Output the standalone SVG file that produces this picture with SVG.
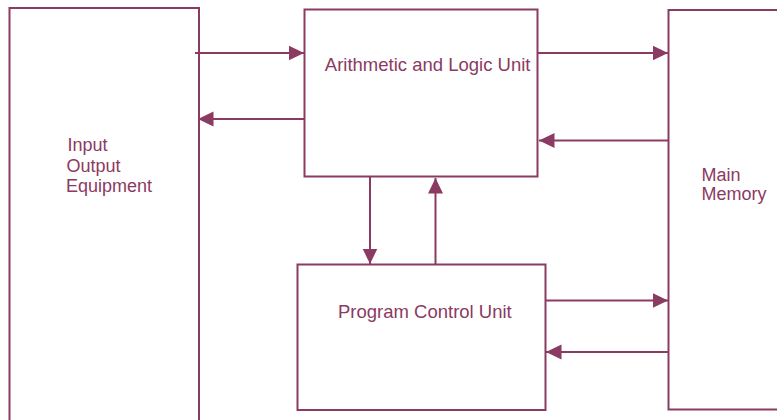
<svg xmlns="http://www.w3.org/2000/svg" width="777" height="420" viewBox="0 0 777 420">
<defs>
<style>
.box{fill:#fff;stroke:#8b3a62;stroke-width:2}
.lbl{font-family:"Liberation Sans",Arial,sans-serif;fill:#8b3a62}
.con{stroke:#8b3a62;stroke-width:2;fill:none;marker-end:url(#ah)}
</style>
<marker id="ah" markerUnits="userSpaceOnUse" markerWidth="16" markerHeight="16" viewBox="0 0 16 16" refX="15.5" refY="8" orient="auto">
<path d="M0,0.5 L15.5,8 L0,15.5 Z" fill="#8b3a62"/>
</marker>
</defs>
<rect width="777" height="420" fill="#fff"/>
<g id="io">
<rect class="box" x="9.5" y="8" width="189.5" height="420"/>
<text class="lbl" font-size="18" x="67.5" y="151">Input</text>
<text class="lbl" font-size="18" x="66.5" y="171.5">Output</text>
<text class="lbl" font-size="18" x="66" y="191.5">Equipment</text>
</g>
<g id="alu">
<rect class="box" x="304.5" y="9.5" width="233" height="167"/>
<text class="lbl" font-size="18.5" x="324.8" y="71">Arithmetic and Logic Unit</text>
</g>
<g id="pcu">
<rect class="box" x="297.5" y="264.5" width="248" height="145.5"/>
<text class="lbl" font-size="18.5" x="338" y="318">Program Control Unit</text>
</g>
<g id="mem">
<rect class="box" x="668.5" y="10" width="130" height="399.5"/>
<text class="lbl" font-size="18" x="701.5" y="180.5">Main</text>
<text class="lbl" font-size="18" x="701.5" y="200">Memory</text>
</g>
<g id="connectors">
<path class="con" d="M195,53 H304"/>
<path class="con" d="M304,119 H198"/>
<path class="con" d="M538,53 H668"/>
<path class="con" d="M668,140.5 H539"/>
<path class="con" d="M370,177 V264"/>
<path class="con" d="M435.5,264 V178"/>
<path class="con" d="M545,300.5 H668"/>
<path class="con" d="M668,352 H546"/>
</g>
</svg>
